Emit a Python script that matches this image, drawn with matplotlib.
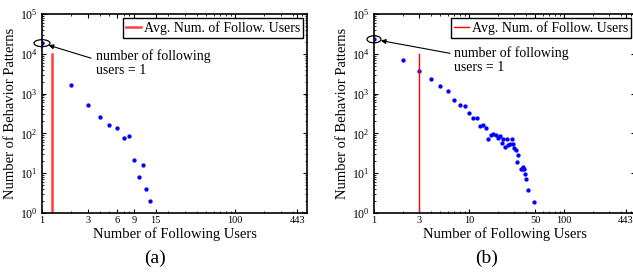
import numpy as np
import matplotlib
matplotlib.use("Agg")
import matplotlib.pyplot as plt
from matplotlib.patches import Ellipse
from matplotlib.transforms import ScaledTranslation
from matplotlib.ticker import FixedLocator, LogLocator, NullFormatter, FixedFormatter, LogFormatterSciNotation

plt.rcParams['font.family'] = ['Liberation Serif', 'DejaVu Serif']
plt.rcParams['mathtext.fontset'] = 'stix'

# ---- data (a) ----
a_x = [1, 2, 3, 4, 5, 6, 7, 8, 9, 10, 11, 12, 13]
a_y = [18500, 1600, 520, 265, 165, 140, 77, 85, 21, 8, 16, 4, 2]
a_avg = 1.28
a_xticks = [1, 3, 6, 9, 15, 100, 443]

# ---- data (b) ----
b_x = [1, 2, 3, 4, 5, 6, 7, 8, 9, 10, 11, 12, 13, 14, 15,
       16, 17, 18, 19, 20, 21, 22, 23, 24, 25, 26, 27, 28, 29, 30,
       31, 32, 33, 35, 36, 37, 38, 39, 40, 42, 48]
b_y = [23100, 6900, 3800, 2300, 1550, 1140, 680, 517, 488, 331, 240, 240, 156, 158, 134,
       71, 90, 97, 91, 78, 86, 56, 74, 45, 74, 51, 54, 71, 54, 44,
       39, 19, 29, 13, 13, 14.6, 13, 9.4, 7.3, 3.7, 1.9]
b_avg = 3
b_xticks = [1, 3, 10, 50, 100, 443]

avg_top = 1e4
x_max = 557
y_ticks = [1, 10, 100, 1000, 10000, 100000]
legend_label = 'Avg. Num. of Follow. Users'
note_text = 'number of following\nusers = 1'
xlabel = 'Number of Following Users'
ylabel = 'Number of Behavior Patterns'

W, H = 633, 274
fig = plt.figure(figsize=(W / 100, H / 100), dpi=100)

def make_ax(x0, width, xs, ys, avg, avg_color, avg_lw, xticks, leg_pad, txt_off, arr_off, ell_w, caption, cap_x):
    ax = fig.add_axes([x0 / W, (H - 213) / H, width / W, 199 / H])
    ax.set_xscale('log')
    ax.set_yscale('log')
    ax.plot(xs, ys, linestyle='none', marker='o', ms=2.1, color='#0000ff', mec='#0000ff')
    ax.plot([avg, avg], [1, avg_top], color=avg_color, lw=avg_lw, label=legend_label)
    ax.set_xlim(1, x_max)
    ax.set_ylim(1, 1e5)
    ax.xaxis.set_major_locator(FixedLocator(xticks))
    ax.xaxis.set_major_formatter(FixedFormatter([str(t) for t in xticks]))
    ax.xaxis.set_minor_locator(LogLocator(base=10, subs=np.arange(2, 10)))
    ax.xaxis.set_minor_formatter(NullFormatter())
    ax.yaxis.set_major_locator(FixedLocator(y_ticks))
    ax.yaxis.set_major_formatter(LogFormatterSciNotation())
    ax.yaxis.set_minor_locator(LogLocator(base=10, subs=np.arange(2, 10)))
    ax.yaxis.set_minor_formatter(NullFormatter())
    ax.tick_params(which='both', direction='in', top=True, right=True, labelsize=7.5, colors='black')
    ax.tick_params(which='major', length=3, width=0.8, pad=2.5)
    ax.tick_params(axis='y', which='major', pad=3, labelsize=8.5)
    ax.tick_params(which='minor', length=1.5, width=0.6)
    for s in ax.spines.values():
        s.set_linewidth(1.2)
    ax.set_xlabel(xlabel, fontsize=10.5, va='center')
    ax.xaxis.set_label_coords(0.5, -0.107)
    ax.set_ylabel(ylabel, fontsize=10.5, va='center')
    ax.yaxis.set_label_coords(-31 / width, 0.5)
    leg = ax.legend(loc='upper right', fontsize=10, frameon=True, fancybox=False,
                    edgecolor='black', framealpha=1, handlelength=1.1, handletextpad=0.2,
                    borderpad=0.2, borderaxespad=leg_pad, labelspacing=0.2)
    leg.get_frame().set_linewidth(1.0)
    # ellipse around the first point
    tr = fig.dpi_scale_trans + ScaledTranslation(xs[0], ys[0], ax.transData)
    ax.add_patch(Ellipse((0, 0), ell_w / 100, 0.07, transform=tr, fill=False,
                         edgecolor='black', lw=0.9, clip_on=False))
    ax.annotate('', xy=(xs[0], ys[0]), xycoords='data', xytext=arr_off,
                textcoords='offset pixels',
                arrowprops=dict(arrowstyle='-|>', color='black', lw=0.8,
                                mutation_scale=7, shrinkA=0, shrinkB=5))
    ax.annotate(note_text, xy=(xs[0], ys[0]), xycoords='data', xytext=txt_off,
                textcoords='offset pixels', ha='left', va='center', fontsize=10,
                linespacing=1.15)
    fig.text(cap_x / W, 1 - 258 / H, caption, ha='center', va='center', fontsize=14)
    return ax

make_ax(42, 265, a_x, a_y, a_avg, '#ff4040', 1.8, a_xticks, 0.3,
        (54, -20), (49, -15), 16, '(a)', 155)
make_ax(374, 261, b_x, b_y, b_avg, '#ff0000', 1.0, b_xticks, 0.3,
        (80, -21), (76, -14), 14, '(b)', 487)

fig.savefig('out.png', dpi=100)
